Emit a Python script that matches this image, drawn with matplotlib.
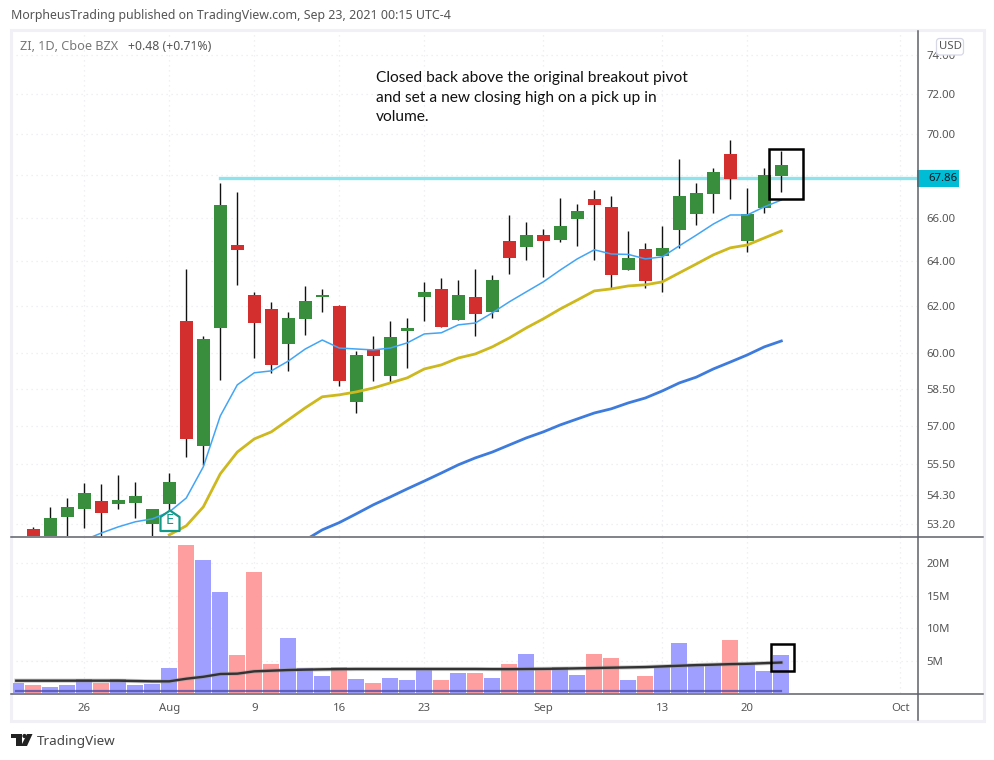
import numpy as np
import matplotlib
matplotlib.use("Agg")
import matplotlib.pyplot as plt
from matplotlib.patches import FancyBboxPatch, Polygon, Rectangle, Circle

nan = np.nan

# daily candles, first one sits below the visible range
opens = [nan, 53.01, 52.42, 53.46, 53.76, 54.07, 53.95, 53.99, 53.20, 53.95, 61.37, 56.20, 61.07, 64.74, 62.50, 61.89,
         60.38, 61.46, 62.41, 62.02, 57.97, 60.13, 59.04, 60.94, 62.41, 62.77, 61.41, 62.41, 61.76, 64.92, 64.65,
         65.19, 64.97, 65.94, 66.87, 66.50, 63.61, 64.56, 64.25, 65.43, 66.17, 67.11, 69.02, 64.92, 66.45, 67.96]
closes = [nan, 52.57, 53.42, 53.84, 54.37, 53.61, 54.11, 54.26, 53.76, 54.80, 56.48, 60.60, 66.59, 64.52, 61.28, 59.50,
          61.50, 62.24, 62.50, 58.84, 59.92, 59.88, 60.68, 61.07, 62.64, 61.11, 62.50, 61.68, 63.17, 64.15, 65.19,
          64.92, 65.61, 66.31, 66.59, 63.39, 64.15, 63.12, 64.61, 67.01, 67.16, 68.15, 67.82, 66.17, 68.01, 68.49]
highs = [nan, 53.09, 53.84, 54.18, 54.76, 54.72, 55.08, 54.80, 53.76, 55.14, 63.66, 60.72, 67.63, 67.20, 62.64, 62.20,
         61.76, 62.90, 62.77, 62.06, 60.09, 60.72, 61.37, 61.50, 63.08, 63.25, 63.17, 63.66, 63.39, 66.12, 65.80,
         65.47, 66.92, 66.64, 67.30, 67.01, 65.38, 64.83, 65.61, 68.78, 67.63, 68.35, 69.71, 67.39, 68.35, 69.17]
lows = [nan, 52.42, 52.23, 52.42, 53.05, 52.60, 53.76, 53.42, 52.60, 53.72, 55.77, 55.46, 58.87, 62.95, 59.79, 59.17,
        59.25, 60.77, 61.76, 58.63, 57.52, 58.84, 58.75, 59.37, 61.37, 61.11, 61.41, 60.72, 61.50, 63.43, 64.06,
        63.30, 64.88, 64.70, 64.06, 62.81, 63.61, 62.81, 62.64, 64.61, 65.66, 66.22, 66.87, 64.43, 66.22, 67.20]

ma_fast = [nan] * 4 + [52.60, 52.86, 53.09, 53.28, 53.39, 53.65, 54.18, 55.38, 57.40, 58.67, 59.17, 59.25, 59.66, 60.17,
                       60.55, 60.21, 60.17, 60.13, 60.21, 60.43, 60.81, 60.86, 61.20, 61.28, 61.72, 62.20, 62.64, 63.08,
                       63.61, 64.11, 64.52, 64.33, 64.31, 64.11, 64.20, 64.70, 65.19, 65.70, 66.12, 66.12, 66.50, 66.82]
ma_mid = [nan] * 9 + [52.79, 53.13, 53.84, 55.11, 55.96, 56.48, 56.76, 57.24, 57.73, 58.18, 58.26, 58.38, 58.54, 58.75,
                      58.96, 59.33, 59.50, 59.79, 59.96, 60.26, 60.64, 61.07, 61.46, 61.89, 62.28, 62.68, 62.77, 62.90,
                      62.95, 63.08, 63.48, 63.88, 64.29, 64.61, 64.74, 65.06, 65.38]
ma_slow = [nan] * 17 + [52.60, 52.98, 53.25, 53.58, 53.92, 54.22, 54.53, 54.83, 55.14, 55.46, 55.73, 55.96, 56.24, 56.52,
                        56.76, 57.04, 57.28, 57.52, 57.69, 57.93, 58.13, 58.42, 58.75, 58.99, 59.33, 59.62, 59.92, 60.26,
                        60.51]

volume = [1.6, 1.28, 0.98, 1.28, 2.2, 1.6, 2.2, 1.28, 1.44, 3.9, 22.85, 20.5, 15.6, 5.9, 18.7, 4.5, 8.5, 3.9, 2.67, 4.06,
          2.2, 1.6, 2.36, 2.05, 3.9, 2.05, 3.13, 3.13, 2.36, 4.5, 6.06, 3.9, 4.06, 2.82, 6.06, 5.44, 2.05, 2.67, 4.2, 7.76,
          4.5, 4.5, 8.2, 4.5, 3.44, 5.9]
volume_up = [1, 0, 1, 1, 1, 0, 1, 1, 1, 1, 0, 1, 1, 0, 0, 0, 1, 1, 1, 0, 1, 0, 1, 1, 1, 0, 1, 0, 1, 0, 1, 0, 1, 1, 0, 0,
             1, 0, 1, 1, 1, 1, 0, 1, 1, 1]
volume_ma = [1.9, 1.9, 1.9, 1.9, 1.9, 1.9, 1.9, 1.85, 1.8, 1.8, 2.2, 2.5, 2.93, 2.98, 3.34, 3.44, 3.54, 3.6, 3.65, 3.68,
             3.7, 3.7, 3.7, 3.7, 3.7, 3.7, 3.7, 3.7, 3.68, 3.68, 3.7, 3.72, 3.75, 3.8, 3.85, 3.9, 3.95, 4.0, 4.1, 4.2,
             4.3, 4.37, 4.45, 4.5, 4.6, 4.7]
volume_base = [0.25] * 46

last_price = 67.86
price_ticks = [74, 72, 70, 68, 66, 64, 62, 60, 58.5, 57, 55.5, 54.3, 53.2]
price_labels = ["74.00", "72.00", "70.00", "", "66.00", "64.00", "62.00", "60.00", "58.50", "57.00", "55.50", "54.30",
                "53.20"]
volume_ticks = [5, 10, 15, 20]
volume_labels = ["5M", "10M", "15M", "20M"]
date_ticks = [4, 9, 14, 19, 24, 31, 38, 43, 52]
date_labels = ["26", "Aug", "9", "16", "23", "Sep", "13", "20", "Oct"]

GREEN = "#388E3C"
RED = "#D32F2F"
GRID = "#ECECF0"
AXIS = "#5D6068"
TEXT = "#555555"
FONT = "Noto Sans"
W, H = 994, 760

x = np.arange(46)
opens, closes, highs, lows = map(np.array, (opens, closes, highs, lows))
is_up = closes >= opens
colors = [GREEN if up else RED for up in is_up]

fig = plt.figure(figsize=(W / 100, H / 100), dpi=100, facecolor="white")


def pane(left, top, right, bottom):
    return fig.add_axes([left / W, 1 - bottom / H, (right - left) / W, (bottom - top) / H])


ax_vol = pane(11, 536, 917, 693)
ax = pane(11, 31, 917, 536)
ax.patch.set_alpha(0)

# price pane
ax.set_yscale("log")
ax.plot([12, 52.98], [last_price, last_price], color="#8FE3EC", lw=2.4, zorder=1)
ax.vlines(x, lows, highs, color="#111111", lw=1.0, zorder=2)
ax.bar(x, np.abs(closes - opens), bottom=np.minimum(opens, closes), width=0.76, color=colors, zorder=3)
ax.plot(x, ma_slow, color="#3D7BDD", lw=2.0, zorder=4)
ax.plot(x, ma_mid, color="#CDB81E", lw=2.0, zorder=4)
ax.plot(x, ma_fast, color="#42A5F5", lw=1.1, zorder=4)
ax.add_patch(Rectangle((44.25, 66.87), 2.0, 2.4, fill=False, ec="black", lw=1.8, zorder=6))

ax.set_xlim(-0.31, 52.98)
ax.set_ylim(52.75, 75.26)
ax.set_yticks(price_ticks, price_labels)
ax.set_yticks([], minor=True)
ax.yaxis.tick_right()
ax.set_xticks(date_ticks, [])

# volume pane
vol_colors = ["#9F9FFF" if up else "#FF9E9F" for up in volume_up]
ax_vol.bar(x, volume, width=0.94, color=vol_colors, zorder=2)
ax_vol.plot(x, volume_base, color="#4A4AA8", lw=1.6, alpha=0.75, zorder=3)
ax_vol.plot(x, volume_ma, color="#999999", lw=3, alpha=0.5, zorder=3)
ax_vol.plot(x, volume_ma, color="#333333", lw=1.7, zorder=4)
ax_vol.add_patch(Rectangle((44.4, 3.44), 1.35, 4.16, fill=False, ec="black", lw=1.8, zorder=6))
ax_vol.set_xlim(-0.31, 52.98)
ax_vol.set_ylim(0, 24.2)
ax_vol.set_yticks(volume_ticks, volume_labels)
ax_vol.yaxis.tick_right()
ax_vol.set_xticks(date_ticks, date_labels)

for a in (ax, ax_vol):
    a.grid(True, color=GRID, lw=0.9, ls=(0, (1, 3)), zorder=0)
    a.set_axisbelow(True)
    a.tick_params(axis="both", which="both", length=0, labelcolor=TEXT, labelsize=8.2)
    a.tick_params(axis="y", pad=7)
    a.tick_params(axis="x", pad=7)
    for label in a.get_xticklabels() + a.get_yticklabels():
        label.set_family(FONT)
    for spine in a.spines.values():
        spine.set_visible(False)

# chart furniture in pixel coordinates
over = fig.add_axes([0, 0, 1, 1], zorder=10)
over.set_xlim(0, W)
over.set_ylim(H, 0)
over.axis("off")
over.patch.set_alpha(0)

over.add_patch(Rectangle((11, 30), 973, 690.5, fill=False, ec="#F0F0F6", lw=2.2))
over.plot([11, 983], [536.5, 536.5], color=AXIS, lw=1.1)
over.plot([11, 983], [693.5, 693.5], color=AXIS, lw=1.1)
over.plot([917.5, 917.5], [31, 720], color=AXIS, lw=1.1)

# earnings marker
over.add_patch(Polygon([(160.5, 531), (179.5, 531), (179.5, 517), (170, 510.5), (160.5, 517)], fc="white", ec="#149A8A",
                       lw=1.6, joinstyle="round"))
over.text(170, 521, "E", color="#149A8A", fontsize=10.5, family=FONT, ha="center", va="center")

over.add_patch(Rectangle((917, 170), 42, 17, fc="#00BCD4", ec="none"))
over.text(928, 178.5, f"{last_price:.2f}", color="#131722", fontsize=8.2, family=FONT, va="center")
over.add_patch(FancyBboxPatch((938, 40), 24, 13.5, boxstyle="round,pad=1.5,rounding_size=3", fc="white", ec="#D6D8E6", lw=0.9))
over.text(950, 46.5, "USD", color=TEXT, fontsize=8.2, family=FONT, ha="center", va="center")

over.text(11, 16, "MorpheusTrading published on TradingView.com, Sep 23, 2021 00:15 UTC-4", color=TEXT, fontsize=8.93,
          family=FONT, va="center")
over.text(20, 46, "ZI, 1D, Cboe BZX", color="#777777", fontsize=9.1, family=FONT, va="center")
over.text(128, 46, "+0.48 (+0.71%)", color=TEXT, fontsize=8.8, family=FONT, va="center")
over.text(376, 78, "Closed back above the original breakout pivot", color="#111111", fontsize=11.15, family="Lato", va="center")
over.text(376, 98, "and set a new closing high on a pick up in", color="#111111", fontsize=11.15, family="Lato", va="center")
over.text(376, 117, "volume.", color="#111111", fontsize=11.15, family="Lato", va="center")

# TradingView logo
over.add_patch(Polygon([(11, 734), (22, 734), (22, 746), (16, 746), (16, 738), (11, 738)], fc="#222222", ec="none"))
over.add_patch(Circle((24.5, 736), 2.1, fc="#222222", ec="none"))
over.add_patch(Polygon([(27, 734), (32.5, 734), (27, 746), (21, 746)], fc="#222222", ec="none"))
over.text(37, 741, "TradingView", color="#444444", fontsize=9.7, family=FONT, va="center")

fig.savefig("out.png", dpi=100)
